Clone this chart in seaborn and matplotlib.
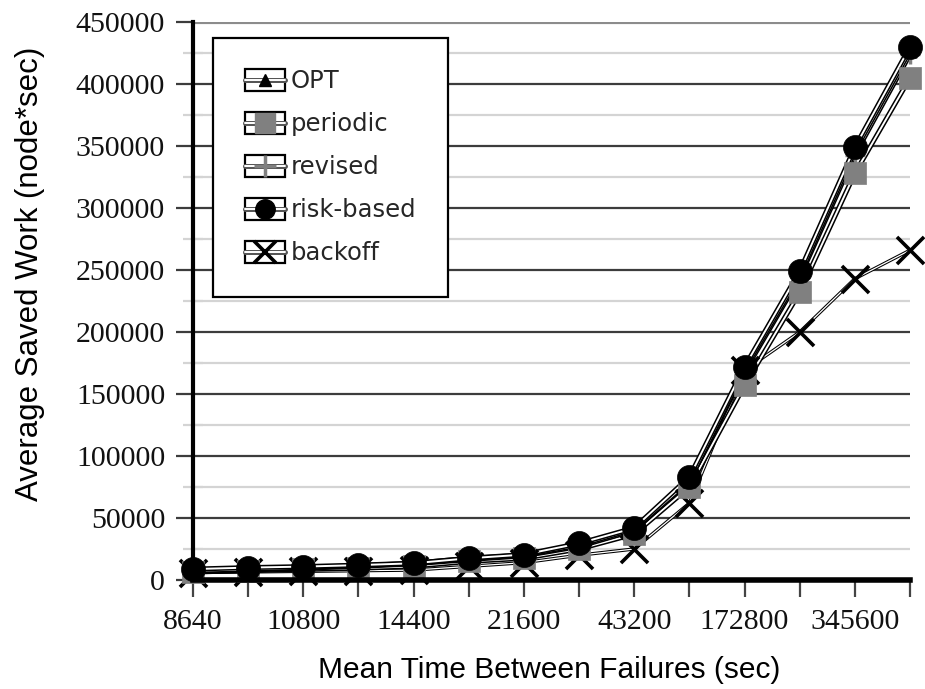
import matplotlib
matplotlib.use("Agg")
import matplotlib.pyplot as plt
import matplotlib.patheffects as pe
from matplotlib.legend_handler import HandlerBase
from matplotlib.lines import Line2D
from matplotlib.patches import Rectangle
import numpy as np
import pandas as pd
import seaborn as sns

# Mean time between failures (sec): 86400/10 ... 86400*5
mtbf = [8640, 9600, 10800, 12343, 14400, 17280, 21600, 28800, 43200,
        86400, 172800, 259200, 345600, 432000]
tick_labels = ["8640", "", "10800", "", "14400", "", "21600", "", "43200",
               "", "172800", "", "345600", ""]

opt = [7500, 8500, 10000, 11500, 13500, 17500, 20000, 28000, 41000,
       80000, 170000, 246000, 346000, 427000]
periodic = [6500, 7500, 8500, 9500, 11000, 15000, 17500, 25000, 37000,
            75000, 157000, 232000, 328000, 405000]
revised = [7000, 8000, 9500, 11000, 13000, 16500, 19500, 27000, 40000,
           80000, 168000, 244000, 343000, 424000]
risk_based = [8800, 10000, 10800, 12000, 13500, 17500, 20500, 29500, 42000,
              83000, 172000, 249000, 349000, 430000]
backoff = [6000, 6500, 7000, 7500, 8000, 11000, 14000, 20000, 25000,
           62000, 169000, 200000, 243000, 266000]

series_names = ["OPT", "periodic", "revised", "risk-based", "backoff"]
series_values = [opt, periodic, revised, risk_based, backoff]

frames = []
for name, vals in zip(series_names, series_values):
    frames.append(pd.DataFrame({"pos": np.arange(len(mtbf)), "mtbf": mtbf,
                                "value": vals, "series": name}))
df = pd.concat(frames, ignore_index=True)

sns.set_theme(style="white")
plt.rcParams["font.family"] = ["DejaVu Sans"]

fig = plt.figure(figsize=(9.25, 6.89), dpi=100)
ax = fig.add_axes([0.2086, 0.1582, 0.7752, 0.8098])

# marker styles per series
styles = {
    "OPT":        dict(marker="^", s=90,  color="black", edgecolor="black", lw=0.5),
    "periodic":   dict(marker="s", s=260, color="#808080", edgecolor="#808080", lw=0.5),
    "revised":    dict(marker="+", s=220, color="#808080", edgecolor=None, lw=2.5),
    "risk-based": dict(marker="o", s=300, color="black", edgecolor="black", lw=0.5),
    "backoff":    dict(marker="x", s=380, color="black", edgecolor=None, lw=2.6),
}
line_widths = {"OPT": (3.6, 1.4), "periodic": (3.6, 1.4), "revised": (3.6, 1.4),
               "risk-based": (3.6, 1.4), "backoff": (2.4, 0.9)}

order = ["backoff", "periodic", "revised", "OPT", "risk-based"]

# lines: black casing with white core
for name in order:
    sub = df[df["series"] == name]
    outer, inner = line_widths[name]
    sns.lineplot(data=sub, x="pos", y="value", ax=ax, color="white",
                 linewidth=inner, legend=False, zorder=3, sort=False)
    ln = ax.lines[-1]
    ln.set_path_effects([pe.Stroke(linewidth=outer, foreground="black"),
                         pe.Normal()])
    ln.set_clip_on(False)

# markers
for name in order:
    sub = df[df["series"] == name]
    st = styles[name]
    kw = dict(marker=st["marker"], s=st["s"], color=st["color"],
              linewidth=st["lw"], legend=False, zorder=4)
    if st["edgecolor"] is not None:
        kw["edgecolor"] = st["edgecolor"]
    sns.scatterplot(data=sub, x="pos", y="value", ax=ax, **kw)
    ax.collections[-1].set_clip_on(False)

# axes and grid
ax.set_xlim(0, 13)
ax.set_ylim(0, 450000)
for yv in range(25000, 450001, 25000):
    major = yv % 50000 == 0
    ax.axhline(yv, color="#3c3c3c" if major else "#d4d4d4",
               linewidth=1.6, zorder=1)
ax.axhline(450000, color="#8c8c8c", linewidth=3, zorder=1)

ax.set_xticks(np.arange(len(mtbf)))
ax.set_xticklabels(tick_labels)
ax.set_yticks(np.arange(0, 450001, 50000))
ax.set_yticklabels([str(v) for v in range(0, 450001, 50000)])
ax.set_yticks(np.arange(25000, 450000, 50000), minor=True)

for lab in ax.get_xticklabels() + ax.get_yticklabels():
    lab.set_fontfamily("Liberation Serif")
    lab.set_fontsize(21.5)
    lab.set_color("#111111")

ax.tick_params(axis="x", direction="out", length=12, width=1.6, color="#444444",
               pad=9, bottom=True)
ax.tick_params(axis="y", which="major", direction="out", length=12, width=1.6,
               color="#3c3c3c", pad=8, left=True)
ax.tick_params(axis="y", which="minor", direction="inout", length=14, width=1.6,
               color="#d4d4d4", left=True)

for side in ["top", "right"]:
    ax.spines[side].set_visible(False)
ax.spines["left"].set_linewidth(3)
ax.spines["left"].set_color("black")
ax.spines["bottom"].set_linewidth(4)
ax.spines["bottom"].set_color("black")
ax.spines["left"].set_zorder(5)
ax.spines["bottom"].set_zorder(5)

ax.set_xlabel("Mean Time Between Failures (sec)", family="Liberation Sans",
              fontsize=21.5, color="black")
ax.set_ylabel("Average Saved Work (node*sec)", family="Liberation Sans",
              fontsize=22.5, color="black")
ax.xaxis.set_label_coords(0.497, -0.136)
ax.yaxis.set_label_coords(-0.207, 0.548)


class BoxedHandler(HandlerBase):
    def __init__(self, marker_kw, **kw):
        super().__init__(**kw)
        self.marker_kw = marker_kw

    def create_artists(self, legend, orig_handle, xdescent, ydescent,
                       width, height, fontsize, trans):
        x0, y0 = -xdescent, -ydescent
        box = Rectangle((x0, y0 - 0.15 * height), width, height * 1.3,
                        facecolor="white", edgecolor="black", linewidth=1.6,
                        transform=trans)
        yc = y0 + height / 2
        ln = Line2D([x0, x0 + width], [yc, yc], color="white", linewidth=1.4,
                    transform=trans)
        ln.set_path_effects([pe.Stroke(linewidth=3.6, foreground="#555555"),
                             pe.Normal()])
        mk = Line2D([x0 + width / 2], [yc], linestyle="none",
                    transform=trans, **self.marker_kw)
        return [box, ln, mk]


legend_markers = {
    "OPT": dict(marker="^", markersize=8, color="black"),
    "periodic": dict(marker="s", markersize=14, color="#808080"),
    "revised": dict(marker="+", markersize=16, color="#808080", markeredgewidth=2.5),
    "risk-based": dict(marker="o", markersize=14, color="black"),
    "backoff": dict(marker="x", markersize=16, color="black", markeredgewidth=2.6),
}
handles = [Line2D([], [], label=n) for n in series_names]
handler_map = {h: BoxedHandler(legend_markers[n]) for h, n in zip(handles, series_names)}
leg = ax.legend(handles=handles, labels=series_names, handler_map=handler_map,
                loc="upper left", bbox_to_anchor=(0.028, 0.972), borderaxespad=0,
                frameon=True, fancybox=False, shadow=False,
                prop=dict(family="DejaVu Sans", size=17.5),
                borderpad=1.3, handlelength=1.65, handleheight=0.7,
                handletextpad=0.25, labelspacing=0.78)
leg.get_frame().set_edgecolor("black")
leg.get_frame().set_linewidth(1.6)
leg.get_frame().set_facecolor("white")
leg.get_frame().set_alpha(1)
leg.set_zorder(10)

fig.savefig("out.png", dpi=100)
